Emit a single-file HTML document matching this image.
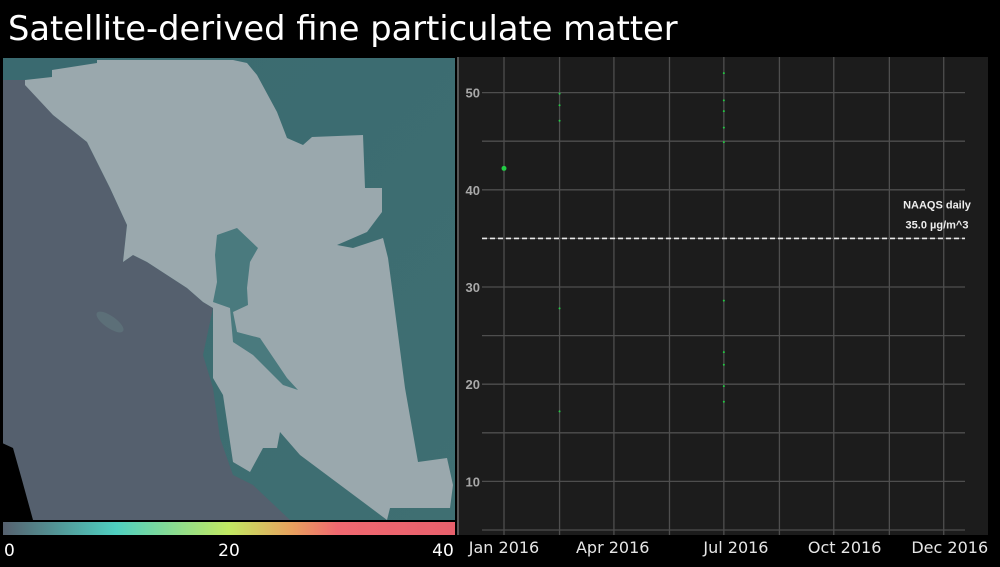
<!DOCTYPE html>
<html><head><meta charset="utf-8"><style>
html,body{margin:0;padding:0;background:#000;}
body{width:1000px;height:563px;overflow:hidden;position:relative;font-family:"DejaVu Sans","Liberation Sans",sans-serif;}
</style></head><body>
<svg width="1000" height="563" viewBox="0 0 1000 563" xmlns="http://www.w3.org/2000/svg">
<defs>
<linearGradient id="cb" x1="0" x2="1" y1="0" y2="0">
<stop offset="0" stop-color="#56616f"/>
<stop offset="0.25" stop-color="#4fcfc0"/>
<stop offset="0.5" stop-color="#c2e862"/>
<stop offset="0.64" stop-color="#e8a05e"/>
<stop offset="0.74" stop-color="#f06870"/>
<stop offset="1" stop-color="#e8606c"/>
</linearGradient>
<linearGradient id="land" x1="0" x2="1" y1="0" y2="1">
<stop offset="0" stop-color="#3a6a70"/>
<stop offset="1" stop-color="#3f6f72"/>
</linearGradient>
</defs>
<text x="8" y="40" fill="#fff" font-size="33.7" font-family="DejaVu Sans, Liberation Sans, sans-serif">Satellite-derived fine particulate matter</text>

<g>
<rect x="3" y="58" width="452" height="462" fill="url(#land)"/>
<path d="M3,80 L25,80 L53,115 L87,142 L110,188 L127,225 L123,262 L133,255 L147,262 L167,275 L187,288 L203,302 L213,308 L203,355 L213,388 L220,438 L233,475 L253,485 L290,520 L3,520 Z" fill="#55606e"/>
<path d="M0,442 L13,448 L22,480 L33,520 L0,520 Z" fill="#000"/>
<path d="M25,80 L52,77 L52,70 L97,63 L97,60 L233,60 L247,63 L257,75 L277,112 L287,138 L303,145 L312,137 L363,135 L365,188 L382,188 L382,212 L367,232 L337,245 L353,248 L383,238 L388,258 L392,288 L405,388 L418,462 L447,458 L453,485 L450,508 L390,508 L387,520 L367,505 L300,455 L280,432 L277,448 L263,448 L250,472 L233,462 L223,395 L213,378 L213,308 L203,302 L187,288 L167,275 L147,262 L133,255 L123,262 L127,225 L110,188 L87,142 L53,115 L25,85 Z" fill="#9aa8ad"/>
<path d="M217,235 L237,228 L258,248 L250,262 L247,288 L248,305 L233,312 L237,332 L260,338 L287,378 L298,390 L283,385 L253,355 L233,342 L230,308 L213,302 L217,282 L215,255 Z" fill="#4a7a7e"/>
<ellipse cx="110" cy="322" rx="16" ry="6" transform="rotate(35 110 322)" fill="#5c6f78"/>
</g>

<g>
<rect x="3" y="522" width="452" height="13" fill="url(#cb)"/>
<text x="4" y="556" fill="#fff" font-size="17">0</text>
<text x="229" y="556" fill="#fff" font-size="17" text-anchor="middle">20</text>
<text x="443" y="556" fill="#fff" font-size="17" text-anchor="middle">40</text>
</g>

<g id="chart">
<rect x="457" y="57" width="531" height="478" fill="#1c1c1c"/>
<line x1="458" y1="57" x2="458" y2="535" stroke="#555" stroke-width="2"/>
</g>
</svg>
<script>
const yTicks = [10, 20, 30, 40, 50];
const yGrid = [5, 10, 15, 20, 25, 30, 35, 40, 45, 50];
const xGridDays = [0, 46, 91, 137, 182, 228, 273, 319, 364];
const xTickLabels = ["Jan 2016", "Apr 2016", "Jul 2016", "Oct 2016", "Dec 2016"];
const xTickDays = [0, 90, 192, 282, 369];
const pointDays = [0, 46, 46, 46, 46, 46, 182, 182, 182, 182, 182, 182, 182, 182, 182, 182];
const pointValues = [42.2, 49.9, 48.7, 47.1, 27.8, 17.2, 52, 49.2, 48.1, 46.4, 44.9, 28.6, 23.3, 22, 19.8, 18.2];
const standardValue = 35;

const NS = "http://www.w3.org/2000/svg";
const g = document.getElementById("chart");
function xs(d){ return 504 + d * 1.208; }
function ys(v){ return 530 - (v - 5) * 9.72; }
function mk(tag, attrs){ const e = document.createElementNS(NS, tag); for (const k in attrs) e.setAttribute(k, attrs[k]); g.appendChild(e); return e; }

yGrid.forEach(v => {
  const l = mk("line", {x1: 482, x2: 965, y1: ys(v), y2: ys(v), stroke: "#4e4e4e", "stroke-width": 1.3});
  
  
});
xGridDays.forEach(d => {
  const l = mk("line", {x1: xs(d), x2: xs(d), y1: 57, y2: 535, stroke: "#4e4e4e", "stroke-width": 1.3});
  
  
});
yTicks.forEach(v => {
  const t = mk("text", {x: 480, y: ys(v) + 5, fill: "#a8a8a8", "font-size": 13, "font-weight": "bold", "text-anchor": "end", "font-family": "Liberation Sans, sans-serif"});
  t.textContent = v;
  
  
});
xTickLabels.forEach((s, i) => {
  const t = mk("text", {x: xs(xTickDays[i]), y: 553, fill: "#e6e6e6", "font-size": 16, "text-anchor": "middle"});
  t.textContent = s;
  
  
});
const sl = mk("line", {x1: 482, x2: 965, y1: ys(standardValue), y2: ys(standardValue), stroke: "#e8e8e8", "stroke-width": 1.6, "stroke-dasharray": "5,3"});


const t1 = mk("text", {x: 937, y: ys(standardValue) - 30, fill: "#eee", "font-size": 11, "font-weight": "bold", "text-anchor": "middle", "font-family": "Liberation Sans, sans-serif"});
t1.textContent = "NAAQS daily";


const t2 = mk("text", {x: 937, y: ys(standardValue) - 10, fill: "#eee", "font-size": 11, "font-weight": "bold", "text-anchor": "middle", "font-family": "Liberation Sans, sans-serif"});
t2.textContent = "35.0 µg/m^3";


pointDays.forEach((d, i) => {
  const p = mk("circle", {cx: xs(d), cy: ys(pointValues[i]), r: i === 0 ? 2.5 : 1, fill: "#22cc44"});
  
  
});
</script>
</body></html>
